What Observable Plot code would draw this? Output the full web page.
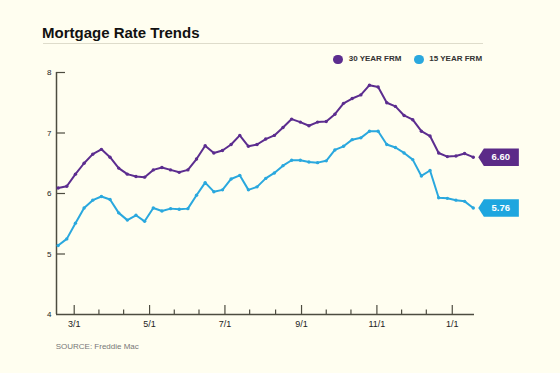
<!DOCTYPE html>
<html>
<head>
<meta charset="utf-8">
<script src="https://cdn.jsdelivr.net/npm/d3@7"></script>
<script src="https://cdn.jsdelivr.net/npm/@observablehq/plot@0.6"></script>
<style>
  html, body { margin: 0; padding: 0; background: #fffef0; }
  #wrap { position: relative; width: 560px; height: 373px; overflow: hidden; font-family: "Liberation Sans", Arial, Helvetica, sans-serif; }
  #title { position: absolute; left: 42px; top: 25px; font-size: 15px; line-height: 15px; font-weight: bold; color: #111; white-space: nowrap; }
  #rule { position: absolute; left: 43px; top: 42.5px; width: 440px; border-top: 1.5px solid #dedccb; }
  .lg { position: absolute; top: 55.2px; font-size: 8px; line-height: 8px; font-weight: bold; color: #333; white-space: nowrap; }
  .sw { position: absolute; top: 54.5px; width: 9.4px; height: 9.4px; border-radius: 50%; }
  #source { position: absolute; left: 55.7px; top: 343.2px; font-size: 8px; line-height: 8px; color: #777; white-space: nowrap; }
  #chart { position: absolute; left: 0; top: 0; }
</style>
</head>
<body>
<div id="wrap">
  <div id="chart"></div>
  <div id="title">Mortgage Rate Trends</div>
  <div id="rule"></div>
  <div class="sw" style="left:333.3px;background:#5c2d8f"></div>
  <div class="lg" style="left:348.7px">30 YEAR FRM</div>
  <div class="sw" style="left:414.3px;background:#2aa8de"></div>
  <div class="lg" style="left:429.3px">15 YEAR FRM</div>
  <div id="source">SOURCE: Freddie Mac</div>
</div>
<script>
// Weekly observation dates (as placed on the chart's axis)
const dates = [
  "2023-02-16","2023-02-23","2023-03-02","2023-03-09","2023-03-16","2023-03-23","2023-03-30",
  "2023-04-06","2023-04-13","2023-04-20","2023-04-27","2023-05-04","2023-05-11","2023-05-18",
  "2023-05-25","2023-06-01","2023-06-08","2023-06-15","2023-06-22","2023-06-29","2023-07-06",
  "2023-07-13","2023-07-20","2023-07-27","2023-08-03","2023-08-10","2023-08-17","2023-08-24",
  "2023-08-31","2023-09-07","2023-09-14","2023-09-21","2023-09-28","2023-10-05","2023-10-12",
  "2023-10-19","2023-10-26","2023-11-02","2023-11-09","2023-11-16","2023-11-23","2023-11-30",
  "2023-12-07","2023-12-14","2023-12-21","2023-12-28","2024-01-04","2024-01-11","2024-01-18"
];
// 30-year fixed-rate mortgage (%)
const rate30 = [
  6.09,6.12,6.32,6.50,6.65,6.73,6.60,6.42,6.32,6.28,6.27,6.39,6.43,6.39,6.35,6.39,6.57,
  6.79,6.67,6.71,6.81,6.96,6.78,6.81,6.90,6.96,7.09,7.23,7.18,7.12,7.18,7.19,7.31,
  7.49,7.57,7.63,7.79,7.76,7.50,7.44,7.29,7.22,7.03,6.95,6.67,6.61,6.62,6.66,6.60
];
// 15-year fixed-rate mortgage (%)
const rate15 = [
  5.14,5.25,5.51,5.76,5.89,5.95,5.90,5.68,5.56,5.64,5.54,5.76,5.71,5.75,5.74,5.75,5.97,
  6.18,6.03,6.06,6.24,6.30,6.06,6.11,6.25,6.34,6.46,6.55,6.55,6.52,6.51,6.54,6.72,
  6.78,6.89,6.92,7.03,7.03,6.81,6.76,6.67,6.56,6.29,6.38,5.93,5.92,5.89,5.87,5.76
];
// Axis ticks
const majorTicks = ["2023-03-01","2023-05-01","2023-07-01","2023-09-01","2023-11-01","2024-01-01"];
const minorTicks = ["2023-03-21","2023-04-10","2023-05-21","2023-06-10","2023-07-21","2023-08-11",
                    "2023-09-21","2023-10-11","2023-11-21","2023-12-11"];
const yTicks = [4,5,6,7,8];

const purple = "#5c2d8f";
const cyan = "#2aa8de";
const axisColor = "#4d4c40";

const table = dates.map((d, i) => ({date: new Date(d), r30: rate30[i], r15: rate15[i]}));
const last = table[table.length - 1];
const xDomain = [new Date("2023-02-14T16:00:00Z"), new Date("2024-01-19T00:00:00Z")];
const majors = majorTicks.map(d => new Date(d));
const minors = minorTicks.map(d => new Date(d));
const fmt = d => `${d.getUTCMonth() + 1}/${d.getUTCDate()}`;

const W = 560, H = 373, mL = 56, mR = 86, mT = 72, mB = 59;
const frameW = W - mL - mR, frameH = H - mT - mB;

const tag = {
  draw(ctx) {
    ctx.moveTo(5, 0);
    ctx.lineTo(10.6, -8.8);
    ctx.lineTo(45.6, -8.8);
    ctx.lineTo(45.6, 8.8);
    ctx.lineTo(10.6, 8.8);
    ctx.closePath();
  }
};

const chart = Plot.plot({
  width: W, height: H,
  marginLeft: mL, marginRight: mR, marginTop: mT, marginBottom: mB,
  style: {background: "transparent", fontFamily: "'Liberation Sans', Arial, Helvetica, sans-serif", fontSize: "9px", color: "#222"},
  x: {type: "utc", domain: xDomain},
  y: {domain: [4, 8]},
  marks: [
    // axes lines and inward ticks
    Plot.ruleX([xDomain[0]], {stroke: axisColor, strokeWidth: 1.5}),
    Plot.ruleY([4], {stroke: axisColor, strokeWidth: 1.5}),
    Plot.ruleY([5, 6, 7, 8], {stroke: axisColor, strokeWidth: 1.2, insetRight: frameW - 9}),
    Plot.ruleX(majors, {stroke: axisColor, strokeWidth: 1.2, insetTop: frameH - 9}),
    Plot.ruleX(minors, {stroke: axisColor, strokeWidth: 1.2, insetTop: frameH - 4.5}),
    Plot.axisY({ticks: yTicks, tickSize: 0, tickPadding: 5, tickFormat: d => String(d), fontSize: 8, label: null, fill: "#222"}),
    Plot.axisX({ticks: majors, tickSize: 0, tickPadding: 6, tickFormat: fmt, fontSize: 9, label: null, fill: "#222"}),
    // series
    Plot.line(table, {x: "date", y: "r15", stroke: cyan, strokeWidth: 2}),
    Plot.dot(table, {x: "date", y: "r15", fill: cyan, r: 1.7}),
    Plot.line(table, {x: "date", y: "r30", stroke: purple, strokeWidth: 2}),
    Plot.dot(table, {x: "date", y: "r30", fill: purple, r: 1.7}),
    // end-value tags
    Plot.dot([last], {x: "date", y: "r30", symbol: tag, r: 5, fill: "#5b2a88", stroke: "none"}),
    Plot.dot([last], {x: "date", y: "r15", symbol: tag, r: 5, fill: "#1ea6df", stroke: "none"}),
    Plot.text([last], {x: "date", y: "r30", text: d => d.r30.toFixed(2), dx: 27.5, fill: "white", fontWeight: "bold", fontSize: 9.5}),
    Plot.text([last], {x: "date", y: "r15", text: d => d.r15.toFixed(2), dx: 27.5, fill: "white", fontWeight: "bold", fontSize: 9.5})
  ]
});
document.getElementById("chart").appendChild(chart);
</script>
</body>
</html>
